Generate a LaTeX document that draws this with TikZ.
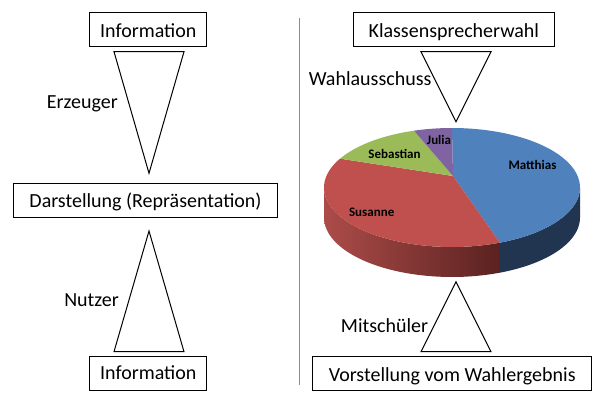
\documentclass[tikz,border=0pt]{standalone}
\usepackage{fontspec}
\setmainfont{Carlito}
\definecolor{mblue}{HTML}{4F81BD}
\definecolor{sred}{HTML}{C0504D}
\definecolor{sgreen}{HTML}{9BBB59}
\definecolor{jpurple}{HTML}{8064A2}
\definecolor{redsideL}{HTML}{AC4C49}
\definecolor{redsideR}{HTML}{5A2220}
\definecolor{bluesideC}{HTML}{213551}
\definecolor{divgray}{HTML}{8C8C8C}
\begin{document}
\begin{tikzpicture}[x=1pt,y=-1pt,
  box/.style={draw=black, line width=1pt, inner sep=0pt, text depth=0pt, font=\fontsize{20}{23}\selectfont},
  lbl/.style={inner sep=0pt, font=\fontsize{20}{23}\selectfont, anchor=base east},
  tri/.style={draw=black, line width=1pt, line join=miter},
  pl/.style={inner sep=0pt, font=\fontsize{13}{15}\selectfont\bfseries}]
\useasboundingbox (0,0) rectangle (602,401);
\fill[white] (0,0) rectangle (602,401);

% divider
\coordinate (d1) at (299.5,18);
\coordinate (d2) at (299.5,385);
\draw[divgray, line width=1.5pt] (d1) -- (d2);

% boxes
\node[box, minimum width=116.7pt, minimum height=33.7pt, text height=17pt] (info1) at (148.3,29.2) {Information};
\node[box, minimum width=264.3pt, minimum height=34pt, text height=13.4pt] (dar) at (145.5,200.3) {Darstellung (Repräsentation)};
\node[box, minimum width=116.7pt, minimum height=34.3pt, text height=10.4pt] (info2) at (148.3,373.8) {Information};
\node[box, minimum width=201pt, minimum height=33.7pt, text height=17pt] (kl) at (453.8,29.2) {Klassensprecherwahl};
\node[box, minimum width=279pt, minimum height=34.3pt, text height=15.8pt] (vor) at (452.2,373.8) {Vorstellung vom Wahlergebnis};

% triangles
\coordinate (t1a) at (114,51.7); \coordinate (t1b) at (184,51.7); \coordinate (t1c) at (149,173.3);
\draw[tri] (t1a) -- (t1b) -- (t1c) -- cycle;
\coordinate (t2a) at (114,351.7); \coordinate (t2b) at (184,351.7); \coordinate (t2c) at (149,231);
\draw[tri] (t2a) -- (t2b) -- (t2c) -- cycle;
\coordinate (t3a) at (421,51.7); \coordinate (t3b) at (491,51.7); \coordinate (t3c) at (456,121.7);
\draw[tri] (t3a) -- (t3b) -- (t3c) -- cycle;
\coordinate (t4a) at (421,351.7); \coordinate (t4b) at (491,351.7); \coordinate (t4c) at (456,281.7);
\draw[tri] (t4a) -- (t4b) -- (t4c) -- cycle;

% labels
\node[lbl] (erz) at (118,108.6) {Erzeuger};
\node[lbl] (nutz) at (119,306) {Nutzer};
\node[lbl] (wahl) at (431.7,86) {Wahlausschuss};
\node[lbl] (mit) at (428.3,332.7) {Mitschüler};

% pie
\def\cx{452}\def\cy{187.5}\def\rx{128}\def\ry{59.5}\def\dep{30}
\coordinate (pc) at (453,176);
\path[left color=redsideL, right color=redsideR]
  plot[domain=68:180,samples=40] ({\cx+\rx*cos(\x)},{\cy+\ry*sin(\x)})
  -- plot[domain=180:68,samples=40] ({\cx+\rx*cos(\x)},{\cy+\dep+\ry*sin(\x)}) -- cycle;
\fill[bluesideC]
  plot[domain=0:68,samples=30] ({\cx+\rx*cos(\x)},{\cy+\ry*sin(\x)})
  -- plot[domain=68:0,samples=30] ({\cx+\rx*cos(\x)},{\cy+\dep+\ry*sin(\x)}) -- cycle;
\fill[mblue] (pc) -- plot[domain=-90:68,samples=60] ({\cx+\rx*cos(\x)},{\cy+\ry*sin(\x)}) -- cycle;
\fill[sred] (pc) -- plot[domain=68:209,samples=60] ({\cx+\rx*cos(\x)},{\cy+\ry*sin(\x)}) -- cycle;
\fill[sgreen] (pc) -- plot[domain=209:252.7,samples=25] ({\cx+\rx*cos(\x)},{\cy+\ry*sin(\x)}) -- cycle;
\fill[jpurple] (pc) -- plot[domain=252.7:270,samples=12] ({\cx+\rx*cos(\x)},{\cy+\ry*sin(\x)}) -- cycle;

\node[pl] (matt) at (532.5,165) {Matthias};
\node[pl] (seb) at (394.5,153.5) {Sebastian};
\node[pl] (jul) at (439,140) {Julia};
\node[pl] (sus) at (371.7,212) {Susanne};
\end{tikzpicture}
\end{document}
